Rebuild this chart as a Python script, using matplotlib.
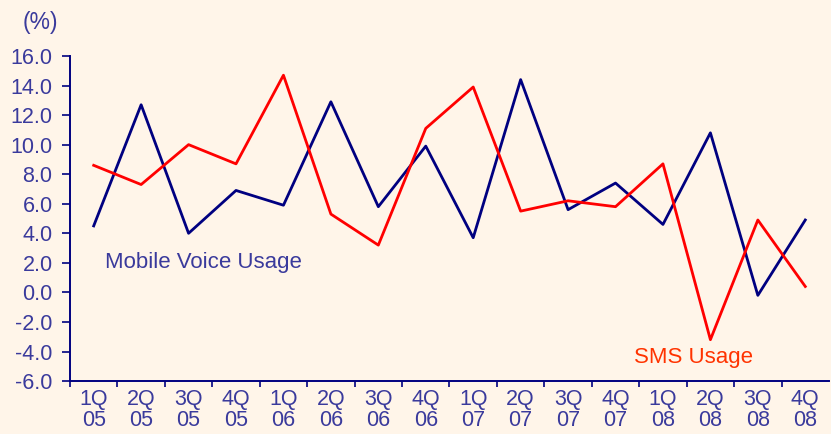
import matplotlib.pyplot as plt
from matplotlib.ticker import FixedLocator, NullFormatter

# quarterly growth (%)
quarters = ["1Q\n05", "2Q\n05", "3Q\n05", "4Q\n05", "1Q\n06", "2Q\n06", "3Q\n06", "4Q\n06",
            "1Q\n07", "2Q\n07", "3Q\n07", "4Q\n07", "1Q\n08", "2Q\n08", "3Q\n08", "4Q\n08"]
voice = [4.5, 12.7, 4.0, 6.9, 5.9, 12.9, 5.8, 9.9, 3.7, 14.4, 5.6, 7.4, 4.6, 10.8, -0.2, 4.9]
sms = [8.6, 7.3, 10.0, 8.7, 14.7, 5.3, 3.2, 11.1, 13.9, 5.5, 6.2, 5.8, 8.7, -3.2, 4.9, 0.4]

bg = "#FFF5E9"
txt = "#3A3A9C"
fs = 15.5
plt.rcParams['font.family'] = ['Liberation Sans', 'DejaVu Sans']

fig = plt.figure(figsize=(8.31, 4.34), dpi=100, facecolor=bg)
ax = fig.add_axes([0.0842, 0.122, 0.9134, 0.749])
ax.set_facecolor(bg)

x = range(len(quarters))
ax.plot(x, voice, color="#000080", lw=2.0)
ax.plot(x, sms, color="#FF0000", lw=2.0)

ax.set_xlim(-0.5, len(quarters) - 0.5)
ax.set_ylim(-6, 16)
ax.set_yticks(range(-6, 17, 2))
ax.set_yticklabels([f"{v:.1f}" for v in range(-6, 17, 2)])
ax.set_xticks(list(x))
ax.set_xticklabels(quarters, linespacing=1.0)
ax.xaxis.set_minor_locator(FixedLocator([i - 0.5 for i in range(len(quarters))]))
ax.xaxis.set_minor_formatter(NullFormatter())

ax.tick_params(axis='x', which='major', length=0, pad=6, labelsize=fs, labelcolor=txt)
ax.tick_params(axis='x', which='minor', length=4, width=1.2, color="#000080")
ax.tick_params(axis='y', length=5.5, width=1.2, color="#000080", pad=7, labelsize=fs, labelcolor=txt)

for s in ["top", "right"]:
    ax.spines[s].set_visible(False)
for s in ["left", "bottom"]:
    ax.spines[s].set_color("#000080")
    ax.spines[s].set_linewidth(1.4)

ax.text(0.24, 2.0, "Mobile Voice Usage", color=txt, fontsize=fs + 0.5, va="center", ha="left")
ax.text(11.38, -4.4, "SMS Usage", color="#FF3300", fontsize=fs + 0.5, va="center", ha="left")
fig.text(40 / 831, 1 - 22 / 434, "(%)", color=txt, fontsize=fs + 1, ha="center", va="center")

fig.savefig("out.png", dpi=100, facecolor=bg)
